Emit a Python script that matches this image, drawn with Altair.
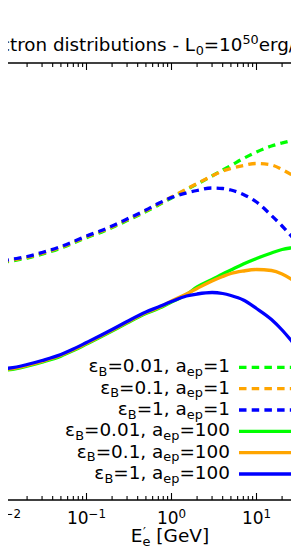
import altair as alt
import pandas as pd

# ---------------- data ----------------
energy_gev = [0.01, 0.015, 0.02, 0.03, 0.05, 0.07, 0.1, 0.15, 0.2, 0.3, 0.5, 0.7,
              1, 1.5, 2, 3, 4, 5, 7, 10, 15, 20, 25, 32]

# relative log10(E'^2 N) in arbitrary units
dash_eb001 = [2.374, 2.399, 2.419, 2.459, 2.519, 2.569, 2.624, 2.679, 2.724, 2.794, 2.884, 2.949,
              3.02, 3.105, 3.16, 3.24, 3.30, 3.345, 3.415, 3.48, 3.54, 3.57, 3.59, 3.605]
dash_eb01 = [2.382, 2.407, 2.427, 2.467, 2.527, 2.577, 2.632, 2.687, 2.732, 2.802, 2.893, 2.958,
             3.03, 3.11, 3.165, 3.24, 3.29, 3.315, 3.345, 3.365, 3.35, 3.305, 3.26, 3.205]
dash_eb1 = [2.39, 2.415, 2.435, 2.475, 2.535, 2.585, 2.64, 2.695, 2.74, 2.81, 2.90, 2.965,
            3.025, 3.07, 3.095, 3.12, 3.115, 3.10, 3.055, 2.98, 2.845, 2.74, 2.65, 2.55]
solid_eb001 = [1.294, 1.314, 1.339, 1.379, 1.439, 1.494, 1.559, 1.634, 1.689, 1.769, 1.864, 1.914,
               1.98, 2.055, 2.13, 2.205, 2.26, 2.30, 2.36, 2.415, 2.47, 2.505, 2.52, 2.53]
solid_eb01 = [1.302, 1.322, 1.347, 1.387, 1.447, 1.502, 1.567, 1.642, 1.697, 1.777, 1.872, 1.922,
              1.99, 2.06, 2.115, 2.19, 2.235, 2.265, 2.29, 2.305, 2.295, 2.26, 2.215, 2.15]
solid_eb1 = [1.31, 1.33, 1.355, 1.395, 1.455, 1.51, 1.575, 1.65, 1.705, 1.785, 1.88, 1.93,
             1.985, 2.04, 2.06, 2.075, 2.065, 2.045, 2.0, 1.915, 1.805, 1.70, 1.605, 1.49]

series_values = [dash_eb001, dash_eb01, dash_eb1, solid_eb001, solid_eb01, solid_eb1]
eps_b_labels = ["0.01", "0.1", "1", "0.01", "0.1", "1"]
a_ep_labels = ["1", "1", "1", "100", "100", "100"]
series_colors = ["#00ff00", "#ffa500", "#0000ff", "#00ff00", "#ffa500", "#0000ff"]
series_dashed = [True, True, True, False, False, False]

major_ticks = [0.001, 0.01, 0.1, 1, 10, 100]
tick_base = "10"
tick_exponents = ["−3", "−2", "−1", "0", "1", "2"]
minor_ticks = [0.002, 0.003, 0.004, 0.005, 0.006, 0.007, 0.008, 0.009,
               0.02, 0.03, 0.04, 0.05, 0.06, 0.07, 0.08, 0.09,
               0.2, 0.3, 0.4, 0.5, 0.6, 0.7, 0.8, 0.9,
               2, 3, 4, 5, 6, 7, 8, 9,
               20, 30, 40, 50, 60, 70, 80, 90]

title_parts = [("Electron distributions - L", "n"), ("0", "sub"), ("=10", "n"),
               ("50", "sup"), ("erg/s", "n")]

# ---------------- layout ----------------
W_PLOT, H_PLOT = 283, 437
PAD = {"left": 0, "right": 0, "top": 55, "bottom": 46}
FONT = "DejaVu Sans"
DASH = [7.5, 5.2]
LW = 3.3

ADV = {' ': 651, ',': 651, '.': 651, '-': 739, '/': 690, '=': 1716, '[': 799, ']': 799,
       'B': 1405, 'E': 1294, 'G': 1589, 'L': 1141, 'V': 1401, '−': 1716,
       'a': 1255, 'b': 1300, 'c': 1126, 'd': 1300, 'e': 1260, 'g': 1300, 'i': 569,
       'l': 569, 'n': 1298, 'o': 1253, 'p': 1300, 'r': 842, 's': 1067, 't': 803,
       'u': 1298, 'ε': 1130, '′': 563}
for _d in "0123456789":
    ADV[_d] = 1303


def tw(s, size):
    return sum(ADV.get(c, 1250) for c in s) / 2048.0 * size


def part_style(kind, size):
    if kind == "sub":
        return size * 0.7, size * 0.2
    if kind == "sup":
        return size * 0.7, -size * 0.38
    return size, 0.0


def parts_width(parts, size):
    return sum(tw(t, part_style(k, size)[0]) for t, k in parts)


def place(parts, size, x0, base, out):
    x = x0
    for t, k in parts:
        s, dy = part_style(k, size)
        out.append({"text": t, "x": x, "y": base + dy, "size": s})
        x += tw(t, s)
    return x


pieces = []

# title (its start lies outside the visible area, as in the reference)
F_T = 18.3
place(title_parts, F_T, -8 - tw("Ele", F_T), -12, pieces)

# legend
F_L = 18.4
leg_centers = [304.3, 325.6, 347.0, 368.3, 389.7, 411.0]
leg_right = 222
for i in range(6):
    parts = [("ε", "n"), ("B", "sub"), ("=" + eps_b_labels[i] + ", a", "n"),
             ("ep", "sub"), ("=" + a_ep_labels[i], "n")]
    w = parts_width(parts, F_L)
    place(parts, F_L, leg_right - w, leg_centers[i] + 5, pieces)

# x axis title  E'_e [GeV]
F_X = 18.5
xl_center, xl_base = 162, 479
w_scr = max(tw("′", 0.7 * F_X), tw("e", 0.7 * F_X))
w_tot = tw("E", F_X) + w_scr + tw(" [GeV]", F_X)
x0 = xl_center - w_tot / 2
pieces.append({"text": "E", "x": x0, "y": xl_base, "size": F_X})
x1 = x0 + tw("E", F_X)
pieces.append({"text": "′", "x": x1 + 0.5, "y": xl_base - 0.30 * F_X, "size": 0.7 * F_X})
pieces.append({"text": "e", "x": x1, "y": xl_base + 0.2 * F_X, "size": 0.7 * F_X})
pieces.append({"text": "[GeV]", "x": x1 + w_scr + tw(" ", F_X), "y": xl_base, "size": F_X})

pieces_df = pd.DataFrame(pieces)

# ---------------- scales ----------------
xs = alt.Scale(type="log", domain=[10 ** -2.2, 10 ** 1.6], range=[-23.5, 299.5], nice=False)
ys = alt.Scale(domain=[0, 4.37], nice=False, zero=False)
one = pd.DataFrame({"k": [0]})

layers = []

# curves
for i in range(6):
    df = pd.DataFrame({"E": energy_gev, "v": series_values[i]})
    kw = dict(color=series_colors[i], strokeWidth=LW, interpolate="monotone")
    if series_dashed[i]:
        kw["strokeDash"] = DASH
    layers.append(
        alt.Chart(df).mark_line(**kw).encode(
            x=alt.X("E:Q", scale=xs, axis=None),
            y=alt.Y("v:Q", scale=ys, axis=None),
        )
    )

# frame lines (top and bottom spines)
for yv in (0, H_PLOT):
    layers.append(
        alt.Chart(one).mark_rule(color="black", strokeWidth=1.4).encode(
            x=alt.value(-10), x2=alt.value(W_PLOT + 10), y=alt.value(yv)
        )
    )

# inward ticks
for vals, ln in ((major_ticks, 7), (minor_ticks, 4)):
    tdf = pd.DataFrame({"t": vals})
    for y_a, y_b in ((H_PLOT, H_PLOT - ln), (0, ln)):
        layers.append(
            alt.Chart(tdf).mark_rule(color="black", strokeWidth=1.1).encode(
                x=alt.X("t:Q", scale=xs, axis=None),
                y=alt.value(y_a), y2=alt.value(y_b),
            )
        )

# tick labels: "10" with a superscript exponent, centred on the tick
F_TK = 17
TK_BASE = 461
tl_df = pd.DataFrame({"t": major_ticks, "exp": tick_exponents,
                      "neg": [e.startswith("−") for e in tick_exponents]})
for is_neg in (True, False):
    sub = tl_df[tl_df["neg"] == is_neg].copy()
    sub["base"] = tick_base
    w_exp = tw(sub["exp"].iloc[0], 0.7 * F_TK)
    w_all = tw(tick_base, F_TK) + w_exp
    layers.append(
        alt.Chart(sub).mark_text(align="left", baseline="alphabetic", font=FONT,
                                 fontSize=F_TK, color="black", dx=-w_all / 2).encode(
            x=alt.X("t:Q", scale=xs, axis=None), y=alt.value(TK_BASE), text="base:N")
    )
    layers.append(
        alt.Chart(sub).mark_text(align="left", baseline="alphabetic", font=FONT,
                                 fontSize=0.7 * F_TK, color="black",
                                 dx=-w_all / 2 + tw(tick_base, F_TK),
                                 dy=-0.38 * F_TK).encode(
            x=alt.X("t:Q", scale=xs, axis=None), y=alt.value(TK_BASE), text="exp:N")
    )

# legend handles
for i in range(6):
    kw = dict(color=series_colors[i], strokeWidth=LW)
    if series_dashed[i]:
        kw["strokeDash"] = DASH
    layers.append(
        alt.Chart(one).mark_rule(**kw).encode(
            x=alt.value(231), x2=alt.value(285), y=alt.value(leg_centers[i])
        )
    )

# rich text pieces (title, legend labels, axis title)
layers.append(
    alt.Chart(pieces_df).mark_text(align="left", baseline="alphabetic", font=FONT,
                                   color="black").encode(
        x=alt.X("x:Q", scale=None, axis=None),
        y=alt.Y("y:Q", scale=None, axis=None),
        text="text:N",
        size=alt.Size("size:Q", scale=None, legend=None),
    )
)

chart = alt.layer(*layers).properties(
    width=W_PLOT, height=H_PLOT, padding=PAD,
    autosize=alt.AutoSizeParams(type="none"), background="white",
).configure_view(stroke=None)

chart.save("out.html", embed_options={"renderer": "svg", "actions": False})
